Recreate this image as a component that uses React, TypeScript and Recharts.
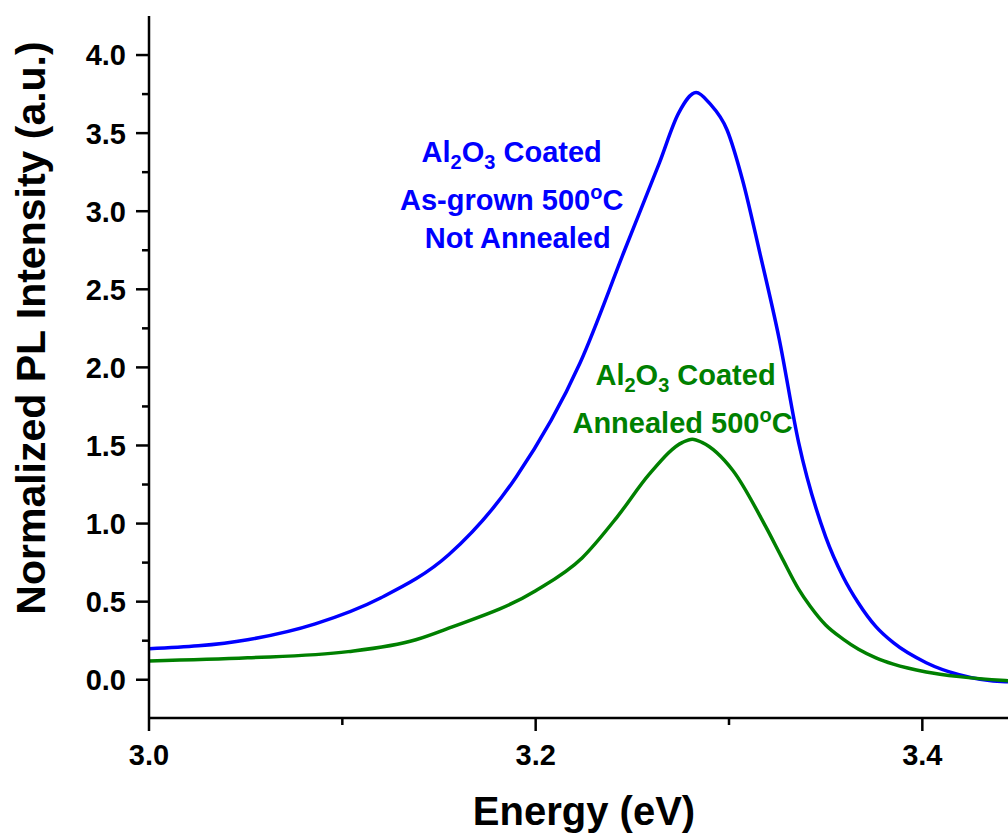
import React from 'react';
import { LineChart, Line, XAxis, YAxis, ReferenceDot } from 'recharts';

// photon energy (eV) and normalized PL intensity
const energyBlue = [3.0, 3.051, 3.086, 3.12, 3.155, 3.19, 3.223, 3.246, 3.264, 3.274, 3.283, 3.29, 3.299, 3.307, 3.316, 3.326, 3.336, 3.35, 3.359, 3.367, 3.376, 3.385, 3.402, 3.419, 3.443, 3.45];
const intensityBlue = [0.198, 0.256, 0.358, 0.525, 0.8, 1.3, 2.03, 2.75, 3.31, 3.63, 3.76, 3.69, 3.52, 3.2, 2.73, 2.18, 1.52, 0.915, 0.66, 0.49, 0.34, 0.237, 0.109, 0.032, -0.013, -0.015];

const energyGreen = [3.0, 3.051, 3.103, 3.138, 3.155, 3.2, 3.224, 3.242, 3.259, 3.276, 3.281, 3.286, 3.302, 3.319, 3.327, 3.336, 3.342, 3.35, 3.359, 3.367, 3.376, 3.385, 3.402, 3.419, 3.443, 3.45];
const intensityGreen = [0.12, 0.14, 0.18, 0.256, 0.33, 0.57, 0.78, 1.04, 1.32, 1.52, 1.54, 1.52, 1.34, 0.98, 0.79, 0.58, 0.47, 0.35, 0.26, 0.195, 0.14, 0.1, 0.05, 0.02, -0.005, -0.01];

const xMajorTicks = [3.0, 3.2, 3.4];
const xMinorTicks = [3.1, 3.3];
const yMajorTicks = [0, 0.5, 1, 1.5, 2, 2.5, 3, 3.5, 4];
const yMinorTicks = [0.25, 0.75, 1.25, 1.75, 2.25, 2.75, 3.25, 3.75];

const blueLabelAt = { x: 3.1876, y: 3.315 };
const greenLabelAt = { x: 3.277, y: 1.888 };

const blueData = energyBlue.map((x, i) => ({ x, y: intensityBlue[i] }));
const greenData = energyGreen.map((x, i) => ({ x, y: intensityGreen[i] }));
const xTicks = [...xMajorTicks, ...xMinorTicks].sort((a, b) => a - b);
const yTicks = [...yMajorTicks, ...yMinorTicks].sort((a, b) => a - b);

const FONT = '"Liberation Sans", Arial, Helvetica, sans-serif';
const BLUE = '#0000ff';
const GREEN = '#008000';
const LW = 2.5;
const MAJOR = 13;
const MINOR = 7;
const axisLine = { stroke: '#000', strokeWidth: LW };

const BottomTick = ({ x, y, payload }: any) => {
  const major = xMajorTicks.includes(payload.value);
  return (
    <g>
      <line x1={x} x2={x} y1={y} y2={y + (major ? MAJOR : MINOR)} stroke="#000" strokeWidth={LW} />
      {major && (
        <text x={x} y={y + 47} textAnchor="middle" fontFamily={FONT} fontWeight="bold" fontSize={29} fill="#000">
          {payload.value.toFixed(1)}
        </text>
      )}
    </g>
  );
};

const LeftTick = ({ x, y, payload }: any) => {
  const major = yMajorTicks.includes(payload.value);
  return (
    <g>
      <line x1={x - (major ? MAJOR : MINOR)} x2={x} y1={y} y2={y} stroke="#000" strokeWidth={LW} />
      {major && (
        <text x={x - 23} y={y} dy="0.36em" textAnchor="end" fontFamily={FONT} fontWeight="bold" fontSize={29} fill="#000">
          {payload.value.toFixed(1)}
        </text>
      )}
    </g>
  );
};

const TopTick = ({ x, y, payload }: any) => {
  const major = xMajorTicks.includes(payload.value);
  return <line x1={x} x2={x} y1={y} y2={y + (major ? MAJOR : MINOR)} stroke="#000" strokeWidth={LW} />;
};

const RightTick = ({ x, y, payload }: any) => {
  const major = yMajorTicks.includes(payload.value);
  return <line x1={x - (major ? MAJOR : MINOR)} x2={x} y1={y} y2={y} stroke="#000" strokeWidth={LW} />;
};

const YTitle = ({ viewBox }: any) => {
  const cx = viewBox.x + 31;
  const cy = viewBox.y + viewBox.height / 2 - 39;
  return (
    <text x={cx} y={cy} transform={`rotate(-90, ${cx}, ${cy})`} textAnchor="middle" dominantBaseline="central"
      fontFamily={FONT} fontWeight="bold" fontSize={41} fill="#000">
      Normalized PL Intensity (a.u.)
    </text>
  );
};

const XTitle = ({ viewBox }: any) => (
  <text x={viewBox.x + viewBox.width / 2} y={viewBox.y + 107} textAnchor="middle"
    fontFamily={FONT} fontWeight="bold" fontSize={40} fill="#000">
    Energy (eV)
  </text>
);

const Al2O3 = () => (
  <>
    Al<tspan fontSize={20} dy={7}>2</tspan>
    <tspan dy={-7}>O</tspan>
    <tspan fontSize={20} dy={7}>3</tspan>
    <tspan dy={-7}> Coated</tspan>
  </>
);

const Deg500 = () => (
  <>
    500<tspan fontSize={20} dy={-11}>o</tspan>
    <tspan dy={11}>C</tspan>
  </>
);

const BlueLabel = ({ viewBox }: any) => {
  const { x, y } = viewBox;
  const common = { textAnchor: 'middle' as const, fontFamily: FONT, fontWeight: 'bold', fontSize: 29, fill: BLUE };
  return (
    <g>
      <text x={x} y={y} {...common}><Al2O3 /></text>
      <text x={x} y={y + 48} {...common}>As-grown <Deg500 /></text>
      <text x={x + 6} y={y + 86} {...common}>Not Annealed</text>
    </g>
  );
};

const GreenLabel = ({ viewBox }: any) => {
  const { x, y } = viewBox;
  const common = { textAnchor: 'middle' as const, fontFamily: FONT, fontWeight: 'bold', fontSize: 29, fill: GREEN };
  return (
    <g>
      <text x={x + 1} y={y} {...common}><Al2O3 /></text>
      <text x={x - 2} y={y + 48} {...common}>Annealed <Deg500 /></text>
    </g>
  );
};

export default function App() {
  return (
    <div style={{ position: 'absolute', left: 0, top: 0, width: 1008, height: 833, overflow: 'hidden', background: '#fff' }}>
      <LineChart width={1019} height={833} margin={{ top: 16, right: 0, bottom: 0, left: 0 }}>
        <XAxis type="number" dataKey="x" domain={[3.0, 3.45]} allowDataOverflow ticks={xTicks} interval={0}
          height={115} tickSize={0} tickMargin={0} tickLine={false} axisLine={axisLine}
          tick={(p: any) => <BottomTick {...p} />} label={(p: any) => <XTitle {...p} />} />
        <XAxis xAxisId="top" orientation="top" mirror type="number" dataKey="x" domain={[3.0, 3.45]} allowDataOverflow
          ticks={xTicks} interval={0} height={0} tickSize={0} tickMargin={0} tickLine={false} axisLine={axisLine}
          tick={(p: any) => <TopTick {...p} />} />
        <YAxis type="number" domain={[-0.245, 4.25]} allowDataOverflow ticks={yTicks} interval={0}
          width={149} tickSize={0} tickMargin={0} tickLine={false} axisLine={axisLine}
          tick={(p: any) => <LeftTick {...p} />} label={(p: any) => <YTitle {...p} />} />
        <YAxis yAxisId="right" orientation="right" mirror type="number" domain={[-0.245, 4.25]} allowDataOverflow
          ticks={yTicks} interval={0} width={0} tickSize={0} tickMargin={0} tickLine={false} axisLine={axisLine}
          tick={(p: any) => <RightTick {...p} />} />
        <Line data={blueData} dataKey="y" type="monotone" stroke={BLUE} strokeWidth={3.5} dot={false} isAnimationActive={false} />
        <Line data={greenData} dataKey="y" type="monotone" stroke={GREEN} strokeWidth={3.5} dot={false} isAnimationActive={false} />
        <ReferenceDot x={blueLabelAt.x} y={blueLabelAt.y} r={0} fill="none" stroke="none"
          label={(p: any) => <BlueLabel {...p} />} />
        <ReferenceDot x={greenLabelAt.x} y={greenLabelAt.y} r={0} fill="none" stroke="none"
          label={(p: any) => <GreenLabel {...p} />} />
      </LineChart>
    </div>
  );
}
